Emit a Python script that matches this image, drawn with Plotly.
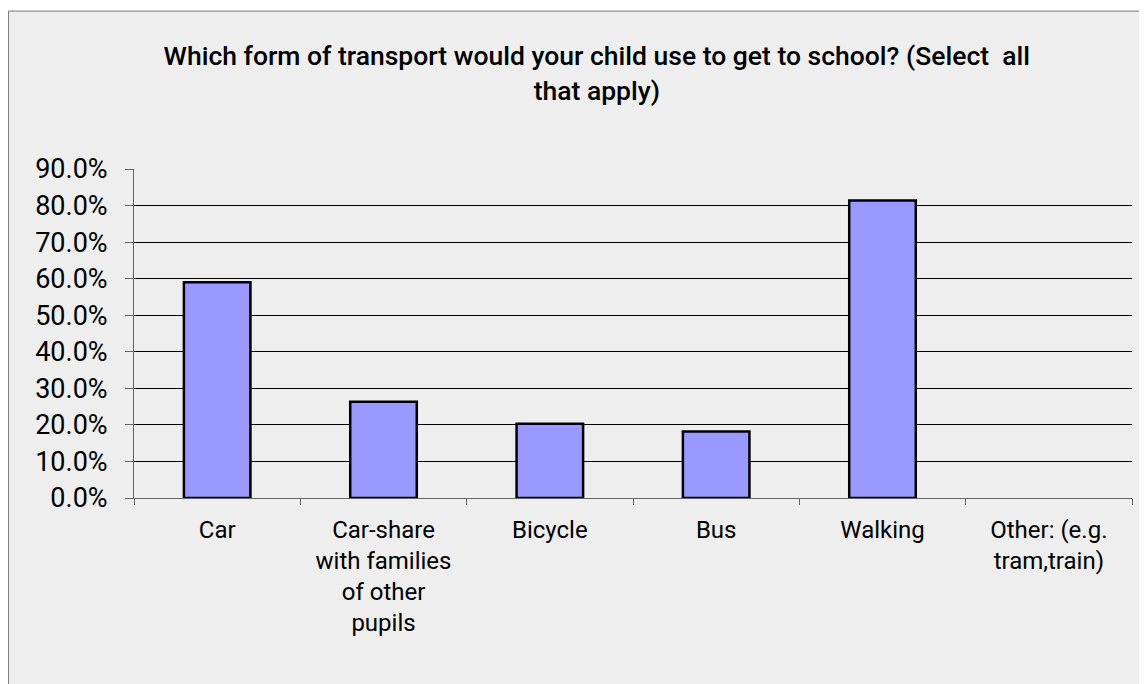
import plotly.graph_objects as go

# data
modes = ["Car", "Car-share<br>with families<br>of other<br>pupils", "Bicycle", "Bus",
         "Walking", "Other: (e.g.<br>tram,train)"]
shares = [0.590, 0.263, 0.203, 0.182, 0.814, 0.0]

titulo = ("Which form of transport would your child use to get to school? (Select&nbsp; all"
          "<br>that apply)")

# no outline on the empty "Other" bar
contorno = [2.5 if s > 0 else 0 for s in shares]

fig = go.Figure(go.Bar(
    x=modes,
    y=shares,
    marker=dict(color="#9999ff", line=dict(color="black", width=contorno)),
))

fig.update_layout(
    width=1139, height=676,
    margin=dict(l=126, r=15, t=161, b=186),
    paper_bgcolor="white",
    plot_bgcolor="rgba(0,0,0,0)",
    bargap=0.6,
    showlegend=False,
    font=dict(family="Roboto", size=25, color="black"),
    title=dict(text=titulo, x=0.517, xanchor="center", xref="container",
               y=0.915, yanchor="top", yref="container",
               font=dict(family="Roboto", size=26.5, weight=500, color="black")),
)

# outer chart frame
fig.add_shape(type="rect", xref="paper", yref="paper",
              x0=-0.1258, x1=1.014, y0=-0.62, y1=1.48,
              fillcolor="#eeeeee", line=dict(color="#777777", width=1), layer="below")

fig.update_yaxes(range=[0, 0.9], dtick=0.1, tickformat=".1%",
                 showgrid=True, gridcolor="black", gridwidth=1,
                 showline=True, linecolor="#666666", linewidth=1,
                 ticks="outside", ticklen=8, tickcolor="#666666", zeroline=False,
                 tickfont=dict(size=27), ticklabelstandoff=12)
fig.update_xaxes(showline=True, linecolor="#666666", linewidth=1,
                 ticks="outside", ticklen=6, tickcolor="#666666",
                 tickson="boundaries", showgrid=False,
                 tickfont=dict(size=24), ticklabelstandoff=10)

fig.write_html("out.html")
